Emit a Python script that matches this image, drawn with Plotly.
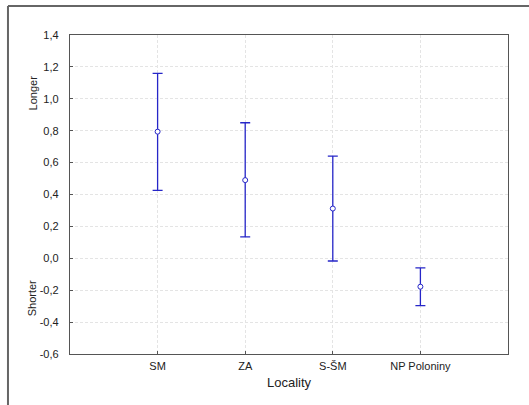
import plotly.graph_objects as go

categories = ["SM", "ZA", "S-ŠM", "NP Poloniny"]
means = [0.794, 0.49, 0.312, -0.178]
upper = [1.16, 0.85, 0.64, -0.06]
lower = [0.426, 0.134, -0.017, -0.297]
y_tickvals = [-0.6, -0.4, -0.2, 0.0, 0.2, 0.4, 0.6, 0.8, 1.0, 1.2, 1.4]
y_ticktext = ["-0,6", "-0,4", "-0,2", "0,0", "0,2", "0,4", "0,6", "0,8", "1,0", "1,2", "1,4"]

err_plus = [u - m for u, m in zip(upper, means)]
err_minus = [m - l for m, l in zip(means, lower)]

blue = "#2626c8"
fig = go.Figure()
fig.add_trace(go.Scatter(
    x=categories, y=means, mode="markers",
    marker=dict(symbol="circle", size=5, color="white",
                line=dict(color=blue, width=1)),
    error_y=dict(type="data", symmetric=False, array=err_plus,
                 arrayminus=err_minus, color=blue, thickness=1.3, width=5),
    showlegend=False,
))

font = dict(family="Liberation Sans, Arial, sans-serif", size=11, color="#222")
grid = dict(showgrid=True, gridcolor="#e4e4e4", griddash="3px,2px", gridwidth=1)
fig.update_layout(
    width=529, height=405,
    margin=dict(l=70, r=21, t=35, b=51),
    paper_bgcolor="white", plot_bgcolor="white",
    font=font,
    xaxis=dict(
        type="category", range=[-1, 4],
        showline=True, linecolor="#555", linewidth=1.3, mirror=True,
        ticks="inside", ticklen=3, tickcolor="#555", ticklabelstandoff=2,
        title=dict(text="Locality", standoff=6), zeroline=False, **grid,
    ),
    yaxis=dict(
        range=[-0.6, 1.4], tickmode="array", tickvals=y_tickvals, ticktext=y_ticktext,
        showline=True, linecolor="#555", linewidth=1.3, mirror=True,
        ticks="inside", ticklen=3, tickcolor="#555", ticklabelstandoff=8,
        zeroline=False, **grid,
    ),
    annotations=[
        dict(text="Longer", x=-0.0845, y=0.82, xref="paper", yref="paper",
             textangle=-90, showarrow=False, font=font, xanchor="center", yanchor="middle"),
        dict(text="Shorter", x=-0.0865, y=0.175, xref="paper", yref="paper",
             textangle=-90, showarrow=False, font=font, xanchor="center", yanchor="middle"),
    ],
    shapes=[
        dict(type="line", xref="paper", yref="paper", x0=-0.1416, x1=1.06,
             y0=1.0909, y1=1.0909, line=dict(color="#666", width=2)),
        dict(type="line", xref="paper", yref="paper", x0=-0.1416, x1=-0.1416,
             y0=1.0909, y1=-0.17, line=dict(color="#666", width=2)),
    ],
)

fig.write_html("out.html", config={"displayModeBar": False},
               post_script="document.body.style.margin='0';")
